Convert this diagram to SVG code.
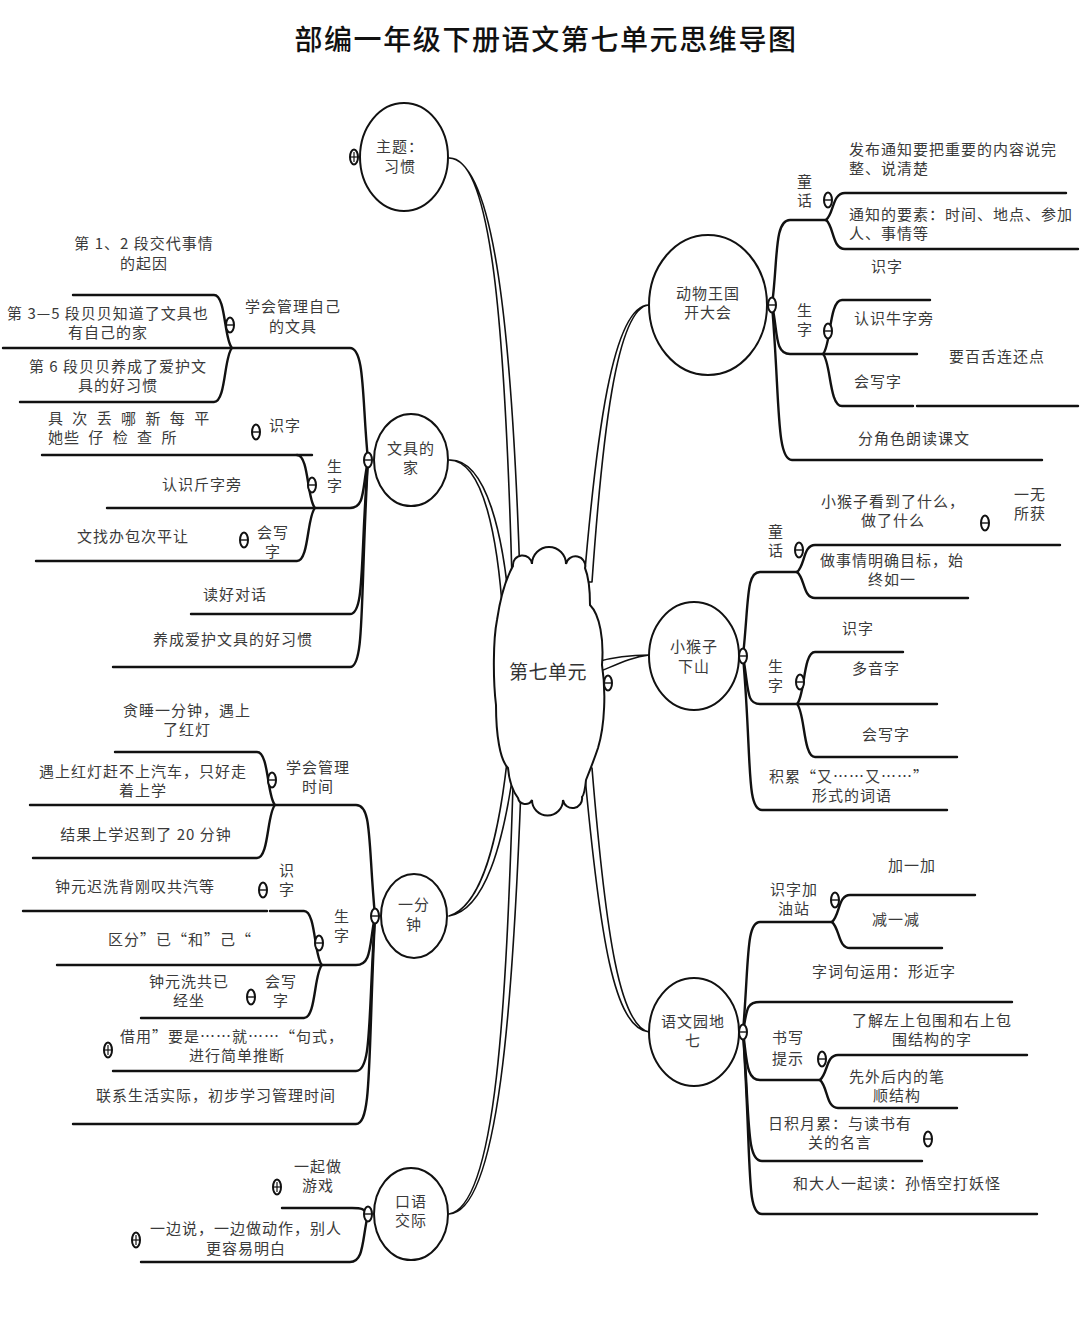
<svg xmlns="http://www.w3.org/2000/svg" width="1080" height="1325" viewBox="0 0 1080 1325">
<style>
.ln{fill:none;stroke:#111;stroke-width:2.4;stroke-linecap:round;stroke-linejoin:round}
.tp{fill:#fff;stroke:#111;stroke-width:1.6;stroke-linejoin:round}
.nd{fill:#fff;stroke:#111;stroke-width:2}
.t{font-family:"Noto Sans CJK SC","Noto Sans",sans-serif;font-size:15px;fill:#3a3a3a;letter-spacing:1px;text-anchor:middle}
.s{text-anchor:start}
.ttl{font-family:"Noto Sans CJK SC","Noto Sans",sans-serif;font-size:28px;fill:#111;letter-spacing:1.6px;text-anchor:middle;font-weight:500}
.ctr{font-family:"Noto Sans CJK SC","Noto Sans",sans-serif;font-size:19px;fill:#333;text-anchor:middle;letter-spacing:0.5px}
</style>
<defs>
<g id="mt"><ellipse rx="4" ry="7.5" fill="#fff" stroke="#111" stroke-width="2"/><line x1="-4" y1="0" x2="4" y2="0" stroke="#111" stroke-width="1.4"/></g>
<g id="mp"><ellipse rx="4" ry="7.5" fill="#fff" stroke="#111" stroke-width="2"/><line x1="-4" y1="0" x2="4" y2="0" stroke="#111" stroke-width="1.2"/><line x1="0" y1="-5" x2="0" y2="5" stroke="#111" stroke-width="1.2"/></g>
</defs>
<rect width="1080" height="1325" fill="#fff"/>
<text class="ttl" x="546" y="50">部编一年级下册语文第七单元思维导图</text>

<g id="connectors">
<path class="tp" d="M449,158 C492,156 505,330 512,578 L520,578 C512,330 494,160 449,158 Z"/>
<path class="tp" d="M649,305 C612,305 596,440 584,582 L592,582 C602,440 616,307 649,305 Z"/>
<path class="tp" d="M449,460 C484,460 498,540 503,618 L510,615 C504,538 487,458 449,460 Z"/>
<path class="tp" d="M649,655 C630,655 614,657 596,662 L596,673 C614,666 630,657 649,655 Z"/>
<path class="tp" d="M449,916 C482,906 498,840 507,762 L514,767 C503,845 485,910 449,916 Z"/>
<path class="tp" d="M449,1214 C497,1206 506,1000 513,786 L521,788 C513,1000 499,1212 449,1214 Z"/>
<path class="tp" d="M649,1032 C614,1028 600,940 584,766 L592,768 C606,938 620,1026 649,1032 Z"/>

<path class="ln" d="M368,460 C362,400 365,348 350,348 H3"/>
<path class="ln" d="M232,348 C224,340 226,295 214,295 H73"/>
<path class="ln" d="M232,348 C224,356 226,402 214,402 H20"/>
<path class="ln" d="M368,460 C362,490 365,508 350,508 H107"/>
<path class="ln" d="M315,508 C307,500 309,455 297,455 H42"/>
<path class="ln" d="M297,455 H312"/>
<path class="ln" d="M315,508 C307,516 309,561 297,561 H36"/>
<path class="ln" d="M368,460 C360,560 365,614 350,614 H191"/>
<path class="ln" d="M368,460 C360,600 365,667 350,667 H113"/>

<path class="ln" d="M375,916 C368,840 372,805 356,805 H30"/>
<path class="ln" d="M275,805 C267,797 269,752 257,752 H115"/>
<path class="ln" d="M275,805 C267,813 269,858 257,858 H33"/>
<path class="ln" d="M375,916 C369,945 372,965 356,965 H57"/>
<path class="ln" d="M322,965 C314,957 316,911 304,911 H270"/>
<path class="ln" d="M267,911 H23"/>
<path class="ln" d="M322,965 C314,973 316,1018 304,1018 H141"/>
<path class="ln" d="M375,916 C368,1020 372,1071 356,1071 H113"/>
<path class="ln" d="M375,916 C368,1060 372,1124 356,1124 H73"/>

<path class="ln" d="M368,1214 C364,1209 362,1208 352,1208 H282"/>
<path class="ln" d="M368,1214 C362,1240 364,1262 350,1262 H141"/>

<path class="ln" d="M772,305 C778,260 774,220 790,220 H826"/>
<path class="ln" d="M826,220 C834,214 832,193 845,193 H1066"/>
<path class="ln" d="M826,220 C834,226 832,249 845,249 H1078"/>
<path class="ln" d="M772,305 C778,330 774,354 790,354 H917"/>
<path class="ln" d="M823,354 C831,346 829,300 842,300 H930"/>
<path class="ln" d="M823,354 C831,362 829,406 842,406 H913"/>
<path class="ln" d="M917,406 H1078"/>
<path class="ln" d="M772,305 C780,400 776,460 792,460 H1042"/>

<path class="ln" d="M743,656 C749,600 746,572 760,572 H797"/>
<path class="ln" d="M797,572 C805,566 803,545 815,545 H1060"/>
<path class="ln" d="M797,572 C805,578 803,598 815,598 H968"/>
<path class="ln" d="M743,656 C749,690 746,704 760,704 H937"/>
<path class="ln" d="M797,704 C805,696 803,652 815,652 H903"/>
<path class="ln" d="M797,704 C805,712 803,757 815,757 H957"/>
<path class="ln" d="M743,656 C752,760 746,810 762,810 H947"/>

<path class="ln" d="M743,1032 C749,960 746,922 760,922 H832"/>
<path class="ln" d="M832,922 C840,915 838,895 850,895 H975"/>
<path class="ln" d="M832,922 C840,929 838,948 850,948 H942"/>
<path class="ln" d="M743,1032 C747,1010 746,1002 760,1002 H1012"/>
<path class="ln" d="M743,1032 C747,1060 746,1080 760,1080 H820"/>
<path class="ln" d="M820,1080 C828,1073 826,1055 838,1055 H1027"/>
<path class="ln" d="M820,1080 C828,1087 826,1108 838,1108 H957"/>
<path class="ln" d="M743,1032 C750,1120 746,1161 762,1161 H922"/>
<path class="ln" d="M743,1032 C752,1170 746,1214 762,1214 H1037"/>
</g>

<g id="node-center">
<path class="nd" d="M513,566 A9.5,9.5 0 0 1 532,564 A17,17 0 0 1 566,564 A9.5,9.5 0 0 1 585,568 C590,580 590,595 590,605 C600,615 604,640 602,665 C606,690 605,725 598,748 C594,760 590,770 586,780 C585,790 584,795 582,797 A9.5,9.5 0 0 1 563,800 A15.5,15.5 0 0 1 532,800 A7.5,7.5 0 0 1 518,798 C512,790 509,780 508,768 C500,760 496,735 496,705 C493,680 493,640 497,620 C500,600 505,580 513,566 Z"/>
<text class="ctr" x="548" y="679">第七单元</text>
<use href="#mt" x="608" y="683"/>
</g>

<g id="node-zhuti">
<ellipse class="nd" cx="404" cy="157" rx="44" ry="54"/>
<text class="t" x="400" y="152">主题：<tspan x="400" dy="20">习惯</tspan></text>
<use href="#mp" x="354" y="157"/>
</g>

<g id="node-wenju">
<ellipse class="nd" cx="411" cy="460" rx="37" ry="46"/>
<text class="t" x="411" y="454">文具的<tspan x="411" dy="19">家</tspan></text>
<use href="#mt" x="368" y="460"/>
<g id="wenju-guanli">
<text class="t" x="293" y="312">学会管理自己<tspan x="293" dy="20">的文具</tspan></text>
<use href="#mt" x="230" y="325"/>
<text class="t" x="144" y="249">第 1、2 段交代事情<tspan x="144" dy="20">的起因</tspan></text>
<text class="t" x="108" y="319">第 3—5 段贝贝知道了文具也<tspan x="108" dy="19">有自己的家</tspan></text>
<text class="t" x="118" y="372">第 6 段贝贝养成了爱护文<tspan x="118" dy="19">具的好习惯</tspan></text>
</g>
<g id="wenju-shengzi">
<text class="t" x="335" y="472">生<tspan x="335" dy="19">字</tspan></text>
<use href="#mt" x="312" y="485"/>
<text class="t s" x="48" y="424" style="word-spacing:4px">具 次 丢 哪 新 每 平<tspan x="48" dy="19">她些 仔 检 查 所</tspan></text>
<use href="#mt" x="256" y="432"/>
<text class="t" x="285" y="431">识字</text>
<text class="t" x="202" y="490">认识斤字旁</text>
<text class="t" x="133" y="542">文找办包次平让</text>
<use href="#mt" x="244" y="540"/>
<text class="t" x="273" y="538">会写<tspan x="273" dy="19">字</tspan></text>
</g>
<text class="t" x="235" y="600">读好对话</text>
<text class="t" x="233" y="645">养成爱护文具的好习惯</text>
</g>

<g id="node-yifenzhong">
<ellipse class="nd" cx="414" cy="916" rx="33" ry="42"/>
<text class="t" x="414" y="910">一分<tspan x="414" dy="20">钟</tspan></text>
<use href="#mt" x="375" y="916"/>
<g id="yfz-shijian">
<text class="t" x="318" y="773">学会管理<tspan x="318" dy="19">时间</tspan></text>
<use href="#mt" x="272" y="780"/>
<text class="t" x="187" y="716">贪睡一分钟，遇上<tspan x="187" dy="19">了红灯</tspan></text>
<text class="t" x="143" y="777">遇上红灯赶不上汽车，只好走<tspan x="143" dy="19">着上学</tspan></text>
<text class="t" x="146" y="840">结果上学迟到了 20 分钟</text>
</g>
<g id="yfz-shengzi">
<text class="t" x="342" y="922">生<tspan x="342" dy="19">字</tspan></text>
<use href="#mt" x="319" y="943"/>
<text class="t" x="135" y="892">钟元迟洗背刚叹共汽等</text>
<use href="#mt" x="263" y="890"/>
<text class="t" x="287" y="876">识<tspan x="287" dy="19">字</tspan></text>
<text class="t" x="180" y="945">区分”已“和”己“</text>
<text class="t" x="189" y="987">钟元洗共已<tspan x="189" dy="19">经坐</tspan></text>
<use href="#mt" x="251" y="997"/>
<text class="t" x="281" y="987">会写<tspan x="281" dy="19">字</tspan></text>
</g>
<use href="#mp" x="108" y="1050"/>
<text class="t" x="232" y="1042">借用”要是……就……“句式，<tspan x="237" dy="19">进行简单推断</tspan></text>
<text class="t" x="216" y="1101">联系生活实际，初步学习管理时间</text>
</g>

<g id="node-kouyu">
<ellipse class="nd" cx="411" cy="1214" rx="37" ry="46"/>
<text class="t" x="411" y="1207">口语<tspan x="411" dy="19">交际</tspan></text>
<use href="#mt" x="368" y="1214"/>
<use href="#mp" x="277" y="1187"/>
<text class="t" x="318" y="1172">一起做<tspan x="318" dy="19">游戏</tspan></text>
<use href="#mp" x="136" y="1240"/>
<text class="t" x="246" y="1234">一边说，一边做动作，别人<tspan x="246" dy="20">更容易明白</tspan></text>
</g>

<g id="node-dongwu">
<ellipse class="nd" cx="708" cy="305" rx="59" ry="70"/>
<text class="t" x="708" y="299">动物王国<tspan x="708" dy="19">开大会</tspan></text>
<use href="#mt" x="772" y="305"/>
<g id="dw-tonghua">
<text class="t" x="805" y="187">童<tspan x="805" dy="19">话</tspan></text>
<use href="#mt" x="828" y="200"/>
<text class="t s" x="849" y="155">发布通知要把重要的内容说完<tspan x="849" dy="19">整、说清楚</tspan></text>
<text class="t s" x="849" y="220">通知的要素：时间、地点、参加<tspan x="849" dy="19">人、事情等</tspan></text>
</g>
<g id="dw-shengzi">
<text class="t" x="805" y="316">生<tspan x="805" dy="19">字</tspan></text>
<use href="#mt" x="828" y="331"/>
<text class="t" x="887" y="272">识字</text>
<text class="t" x="894" y="324">认识牛字旁</text>
<text class="t" x="997" y="362">要百舌连还点</text>
<text class="t" x="878" y="387">会写字</text>
</g>
<text class="t" x="914" y="444">分角色朗读课文</text>
</g>

<g id="node-xiaohouzi">
<ellipse class="nd" cx="694" cy="656" rx="45" ry="54"/>
<text class="t" x="694" y="652">小猴子<tspan x="694" dy="20">下山</tspan></text>
<use href="#mt" x="743" y="656"/>
<g id="xhz-tonghua">
<text class="t" x="776" y="537">童<tspan x="776" dy="19">话</tspan></text>
<use href="#mt" x="799" y="550"/>
<text class="t" x="893" y="507">小猴子看到了什么，<tspan x="893" dy="19">做了什么</tspan></text>
<use href="#mt" x="985" y="523"/>
<text class="t" x="1030" y="500">一无<tspan x="1030" dy="19">所获</tspan></text>
<text class="t" x="892" y="566">做事情明确目标，始<tspan x="892" dy="19">终如一</tspan></text>
</g>
<g id="xhz-shengzi">
<text class="t" x="776" y="672">生<tspan x="776" dy="19">字</tspan></text>
<use href="#mt" x="800" y="682"/>
<text class="t" x="858" y="634">识字</text>
<text class="t" x="876" y="674">多音字</text>
<text class="t" x="886" y="740">会写字</text>
</g>
<text class="t" x="849" y="782">积累“又……又……”<tspan x="852" dy="19">形式的词语</tspan></text>
</g>

<g id="node-yuandi">
<ellipse class="nd" cx="694" cy="1032" rx="45" ry="54"/>
<text class="t" x="693" y="1027">语文园地<tspan x="693" dy="19">七</tspan></text>
<use href="#mt" x="743" y="1032"/>
<g id="yd-shizi">
<text class="t" x="794" y="895">识字加<tspan x="794" dy="19">油站</tspan></text>
<use href="#mt" x="835" y="900"/>
<text class="t" x="912" y="871">加一加</text>
<text class="t" x="896" y="925">减一减</text>
</g>
<text class="t" x="884" y="977">字词句运用：形近字</text>
<g id="yd-shuxie">
<text class="t" x="788" y="1043">书写<tspan x="788" dy="21">提示</tspan></text>
<use href="#mt" x="822" y="1059"/>
<text class="t" x="932" y="1026">了解左上包围和右上包<tspan x="932" dy="19">围结构的字</tspan></text>
<text class="t" x="897" y="1082">先外后内的笔<tspan x="897" dy="19">顺结构</tspan></text>
</g>
<text class="t" x="840" y="1129">日积月累：与读书有<tspan x="840" dy="19">关的名言</tspan></text>
<use href="#mt" x="928" y="1139"/>
<text class="t" x="897" y="1189">和大人一起读：孙悟空打妖怪</text>
</g>
</svg>
